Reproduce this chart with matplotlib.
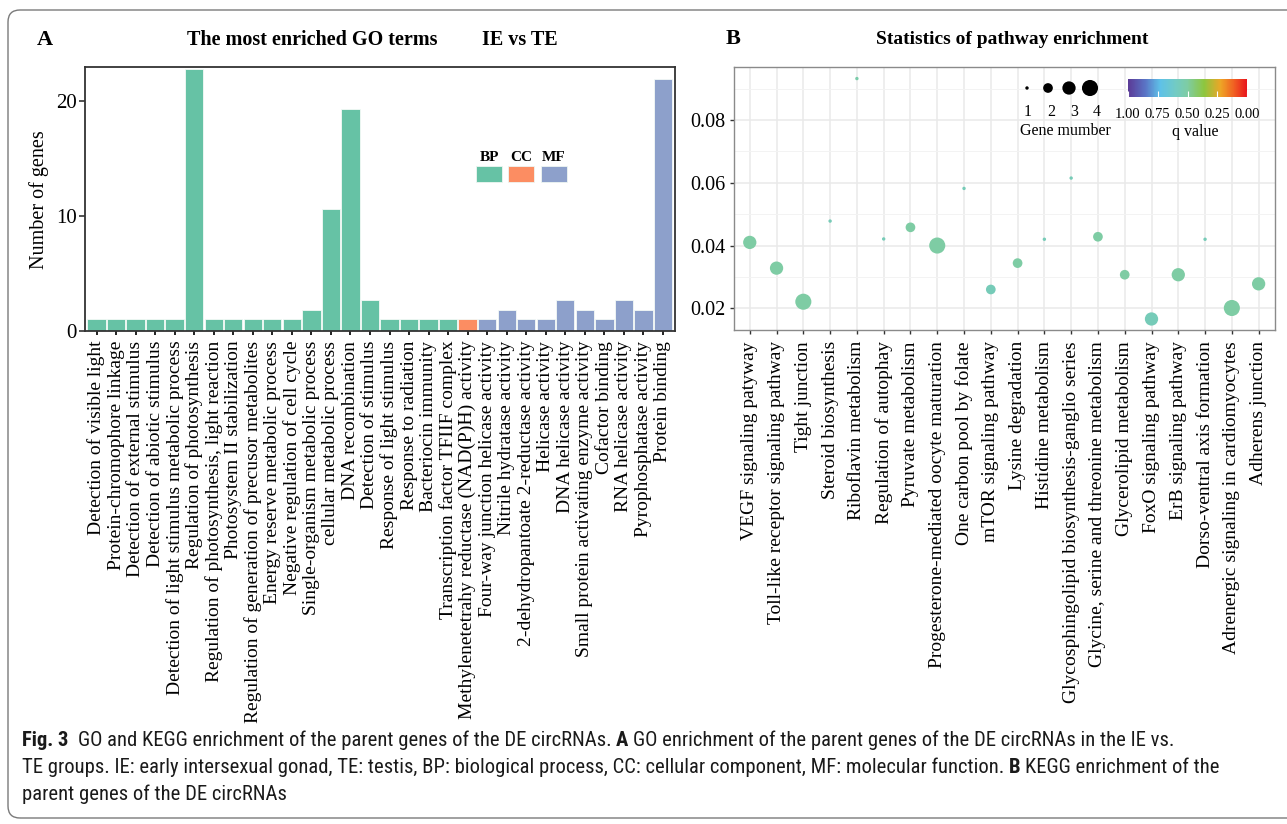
import matplotlib
matplotlib.use("Agg")
import matplotlib.pyplot as plt
import numpy as np
from matplotlib.colors import LinearSegmentedColormap, Normalize
from matplotlib.cm import ScalarMappable
from matplotlib.patches import FancyBboxPatch, Rectangle
from matplotlib.ticker import MultipleLocator, AutoMinorLocator, FormatStrFormatter
from matplotlib import font_manager
from matplotlib.transforms import IdentityTransform

# ---------------- data ----------------
go_terms = [
    "Detection of visible light", "Protein-chromophore linkage",
    "Detection of external stimulus", "Detection of abiotic stimulus",
    "Detection of light stimulus metabolic process", "Regulation of photosynthesis",
    "Regulation of photosynthesis, light reaction", "Photosystem II stabilization",
    "Regulation of generation of precusor metabolites", "Energy reserve metabolic process",
    "Negative regulation of cell cycle", "Single-organism metabolic process",
    "cellular metabolic process", "DNA recombination", "Detection of stimulus",
    "Response of light stimulus", "Response to radiation", "Bacteriocin immunity",
    "Transcription factor TFIIF complex",
    "Methylenetetrahy reductase (NAD(P)H) activity",
    "Four-way junction helicase activity", "Nitrile hydratase activity",
    "2-dehydropantoate 2-reductase activity", "Helicase activity",
    "DNA helicase activity", "Small protein activating enzyme activity",
    "Cofactor binding", "RNA helicase activity", "Pyrophosphatase activity",
    "Protein binding",
]
go_counts = [1, 1, 1, 1, 1, 22.8, 1, 1, 1, 1, 1, 1.85, 10.6, 19.3, 2.7,
             1, 1, 1, 1, 1, 1, 1.85, 1, 1, 2.7, 1.85, 1, 2.7, 1.85, 21.9]
go_class = ["BP"] * 19 + ["CC"] + ["MF"] * 10
go_class_names = ["BP", "CC", "MF"]
go_class_colors = ["#66c2a5", "#fc8d62", "#8da0cb"]

kegg_terms = [
    "VEGF signaling patyway", "Toll-like receptor signaling pathway",
    "Tight junction", "Steroid biosynthesis", "Riboflavin metabolism",
    "Regulation of autophay", "Pyruvate metabolism",
    "Progesterone-mediated oocyte maturation", "One carbon pool by folate",
    "mTOR signaling pathway", "Lysine degradation", "Histidine metabolism",
    "Glycosphingolipid biosynthesis-ganglio series",
    "Glycine, serine and threonine metabolism", "Glycerolipid metabolism",
    "FoxO signaling pathway", "ErB signaling pathway",
    "Dorso-ventral axis formation", "Adrenergic signaling in cardiomyocytes",
    "Adherens junction",
]
kegg_value = [0.0410, 0.0328, 0.0221, 0.0478, 0.0932, 0.0421, 0.0458, 0.0400,
              0.0582, 0.0260, 0.0344, 0.0420, 0.0615, 0.0428, 0.0307, 0.0166,
              0.0307, 0.0420, 0.0201, 0.0278]
kegg_genes = [3, 3, 4, 1, 1, 1, 2, 4, 1, 2, 2, 1, 1, 2, 2, 3, 3, 1, 4, 3]
kegg_q = [0.50, 0.50, 0.50, 0.56, 0.52, 0.56, 0.50, 0.50, 0.56, 0.565,
          0.50, 0.56, 0.56, 0.50, 0.50, 0.565, 0.50, 0.56, 0.50, 0.50]
legend_genes = [1, 2, 3, 4]
q_ticks = [1.00, 0.75, 0.50, 0.25, 0.00]

caption_lines = [
    [("Fig. 3", True), ("  GO and KEGG enrichment of the parent genes of the DE circRNAs. ", False),
     ("A", True), (" GO enrichment of the parent genes of the DE circRNAs in the IE vs.", False)],
    [("TE groups. IE: early intersexual gonad, TE: testis, BP: biological process, CC: cellular component, MF: molecular function. ", False),
     ("B", True), (" KEGG enrichment of the", False)],
    [("parent genes of the DE circRNAs", False)],
]

# ---------------- helpers ----------------
W, H = 1287, 824
SERIF = "Liberation Serif"


def has_font(name):
    try:
        font_manager.findfont(font_manager.FontProperties(family=name),
                              fallback_to_default=False)
        return True
    except Exception:
        return False


CAP_FONT = "Open Sans"
for cand in ["Liberation Sans Narrow", "Roboto Condensed", "Open Sans Condensed"]:
    if has_font(cand):
        CAP_FONT = cand
        break


def rect(l, t, r, b):
    return [l / W, 1 - b / H, (r - l) / W, (b - t) / H]


def fy(y):
    return 1 - y / H


def marker_area(n):
    # radius in pixels grows with the square root of an area linear in n
    r = np.sqrt(2.9 + 20.6 * (np.asarray(n, float) - 1))
    return (1.44 * r) ** 2


cmap = LinearSegmentedColormap.from_list("qv", [
    (0.00, "#e8141c"), (0.10, "#f05a22"), (0.22, "#eea526"), (0.36, "#8dc63f"),
    (0.50, "#7ecca3"), (0.60, "#72cbc4"), (0.73, "#5ec1e8"), (0.86, "#5a72c4"),
    (1.00, "#5b3a96")])
norm = Normalize(0, 1)

fig = plt.figure(figsize=(W / 100, H / 100), dpi=100)

# border
border = FancyBboxPatch((8, H - 818), 1320, 808,
                        boxstyle="round,pad=0,rounding_size=12",
                        transform=IdentityTransform(), fill=False,
                        edgecolor="#7a7a7a", linewidth=1.0)
fig.patches.append(border)

# ---------------- panel A ----------------
axA = fig.add_axes(rect(84.8, 67.3, 674.7, 331))
xa = np.arange(len(go_terms))
cmapA = dict(zip(go_class_names, go_class_colors))
axA.bar(xa, go_counts, width=0.94, color=[cmapA[c] for c in go_class],
        edgecolor="#f4faf7", linewidth=0.6)
axA.set_xlim(-0.6, len(go_terms) - 0.4)
axA.set_ylim(0, 22.93)
axA.set_yticks([0, 10, 20])
axA.set_xticks(xa)
axA.set_xticklabels(go_terms, rotation=90, fontsize=14, family=SERIF)
axA.tick_params(axis="y", labelsize=15, length=4, width=1.1, color="#222", pad=2,
                labelfontfamily=SERIF)
axA.tick_params(axis="x", length=3, width=1.4, color="#222", pad=4,
                labelfontfamily=SERIF)
for s in axA.spines.values():
    s.set_color("#333")
    s.set_linewidth(1.3)
axA.set_ylabel("Number of genes", family=SERIF, fontsize=14.5)
axA.yaxis.set_label_coords((49 - 84.8) / 590.0, 0.5)

fig.text(45 / W, fy(40), "A", family=SERIF, fontweight="bold", fontsize=16,
         ha="center", va="center")
fig.text(312 / W, fy(40), "The most enriched GO terms", family=SERIF,
         fontweight="bold", fontsize=14.5, ha="center", va="center")
fig.text(520 / W, fy(40), "IE vs TE", family=SERIF, fontweight="bold",
         fontsize=14.5, ha="center", va="center")

# legend of panel A
box_left = [476, 508, 541]
for name, col, bl in zip(go_class_names, go_class_colors, box_left):
    fig.patches.append(Rectangle((bl / W, fy(182.3)), 26 / W, 16.3 / H,
                                 transform=fig.transFigure, facecolor=col,
                                 edgecolor="#eef6f2", linewidth=0.6))
    fig.text((bl + 13) / W, fy(157.5), name, family=SERIF, fontweight="bold",
             fontsize=11, ha="center", va="center")

# ---------------- panel B ----------------
axB = fig.add_axes(rect(733.7, 66.7, 1274.7, 330))
xb = np.arange(len(kegg_terms))
axB.set_axisbelow(True)
axB.scatter(xb, kegg_value, s=marker_area(kegg_genes), c=kegg_q, cmap=cmap,
            norm=norm, linewidths=0, zorder=3)
axB.set_xlim(-0.6, len(kegg_terms) - 0.4)
axB.set_ylim(0.01309, 0.09698)
axB.yaxis.set_major_locator(MultipleLocator(0.02))
axB.yaxis.set_minor_locator(AutoMinorLocator(2))
axB.yaxis.set_major_formatter(FormatStrFormatter("%.2f"))
axB.set_xticks(xb)
axB.set_xticklabels(kegg_terms, rotation=90, fontsize=14, family=SERIF)
axB.tick_params(axis="y", which="major", labelsize=14.5, length=3, width=1,
                color="#333", pad=3, labelfontfamily=SERIF)
axB.tick_params(axis="y", which="minor", length=0)
axB.tick_params(axis="x", length=3, width=1, color="#333", pad=5,
                labelfontfamily=SERIF)
axB.grid(which="major", color="#e9e9e9", linewidth=1.1)
axB.grid(which="minor", axis="y", color="#f3f3f3", linewidth=0.7)
for s in axB.spines.values():
    s.set_color("#8a8a8a")
    s.set_linewidth(1.0)

fig.text(733 / W, fy(39), "B", family=SERIF, fontweight="bold", fontsize=16,
         ha="center", va="center")
fig.text(1012 / W, fy(40), "Statistics of pathway enrichment", family=SERIF,
         fontweight="bold", fontsize=14, ha="center", va="center")

# size legend (panel B)
legax = fig.add_axes(rect(1010, 70, 1115, 142))
legax.set_xlim(1010, 1115)
legax.set_ylim(142, 70)
legax.axis("off")
leg_x = [1027 + 21 * i for i in range(len(legend_genes))]
legax.scatter(leg_x, [88] * len(legend_genes), s=marker_area(legend_genes),
              color="black", linewidths=0)
for i, (xx, n) in enumerate(zip(leg_x, legend_genes)):
    legax.text(xx + 1 + 2 * i, 111.5, str(n), family=SERIF, fontsize=11.5,
               ha="center", va="center")
legax.text(1065, 131, "Gene mumber", family=SERIF, fontsize=11.5,
           ha="center", va="center")

# q value colourbar
cax = fig.add_axes(rect(1128, 79, 1247, 97.3))
sm = ScalarMappable(norm=norm, cmap=cmap)
cb = fig.colorbar(sm, cax=cax, orientation="horizontal")
cb.outline.set_visible(False)
cax.invert_xaxis()
cb.set_ticks(q_ticks)
cb.set_ticklabels(["%.2f" % v for v in q_ticks])
cax.tick_params(direction="in", color="white", length=4, width=0.8,
                labelsize=10.5, pad=8, labelfontfamily=SERIF)
fig.text(1195 / W, fy(131.5), "q value", family=SERIF, fontsize=11.5,
         ha="center", va="center")

# ---------------- caption ----------------
renderer = fig.canvas.get_renderer()


def text_width(s, size, bold):
    t = fig.text(0, 0, s, family=CAP_FONT, fontsize=size,
                 fontweight="bold" if bold else "normal")
    w = t.get_window_extent(renderer=renderer).width
    t.remove()
    return w


def run_width(runs, size):
    sp = text_width("a a", size, False) - text_width("aa", size, False)
    total = 0.0
    for txt, bold in runs:
        lead = len(txt) - len(txt.lstrip(" "))
        trail = len(txt) - len(txt.rstrip(" "))
        core = txt.strip(" ")
        total += (lead + trail) * sp + (text_width(core, size, bold) if core else 0)
    return total, sp


base = 10.0
w_line, _ = run_width(caption_lines[0], base)
cap_size = base * (1168 - 22) / w_line
cap_y = [746, 773, 800]
for runs, yb in zip(caption_lines, cap_y):
    _, sp = run_width([("a", False)], cap_size)
    x = 22.0
    for txt, bold in runs:
        lead = len(txt) - len(txt.lstrip(" "))
        trail = len(txt) - len(txt.rstrip(" "))
        core = txt.strip(" ")
        x += lead * sp
        if core:
            t = fig.text(x / W, fy(yb), core, family=CAP_FONT, fontsize=cap_size,
                         fontweight="bold" if bold else "normal", ha="left",
                         va="baseline", color="#1a1a1a")
            x += t.get_window_extent(renderer=renderer).width
        x += trail * sp

fig.savefig("out.png", dpi=100)
